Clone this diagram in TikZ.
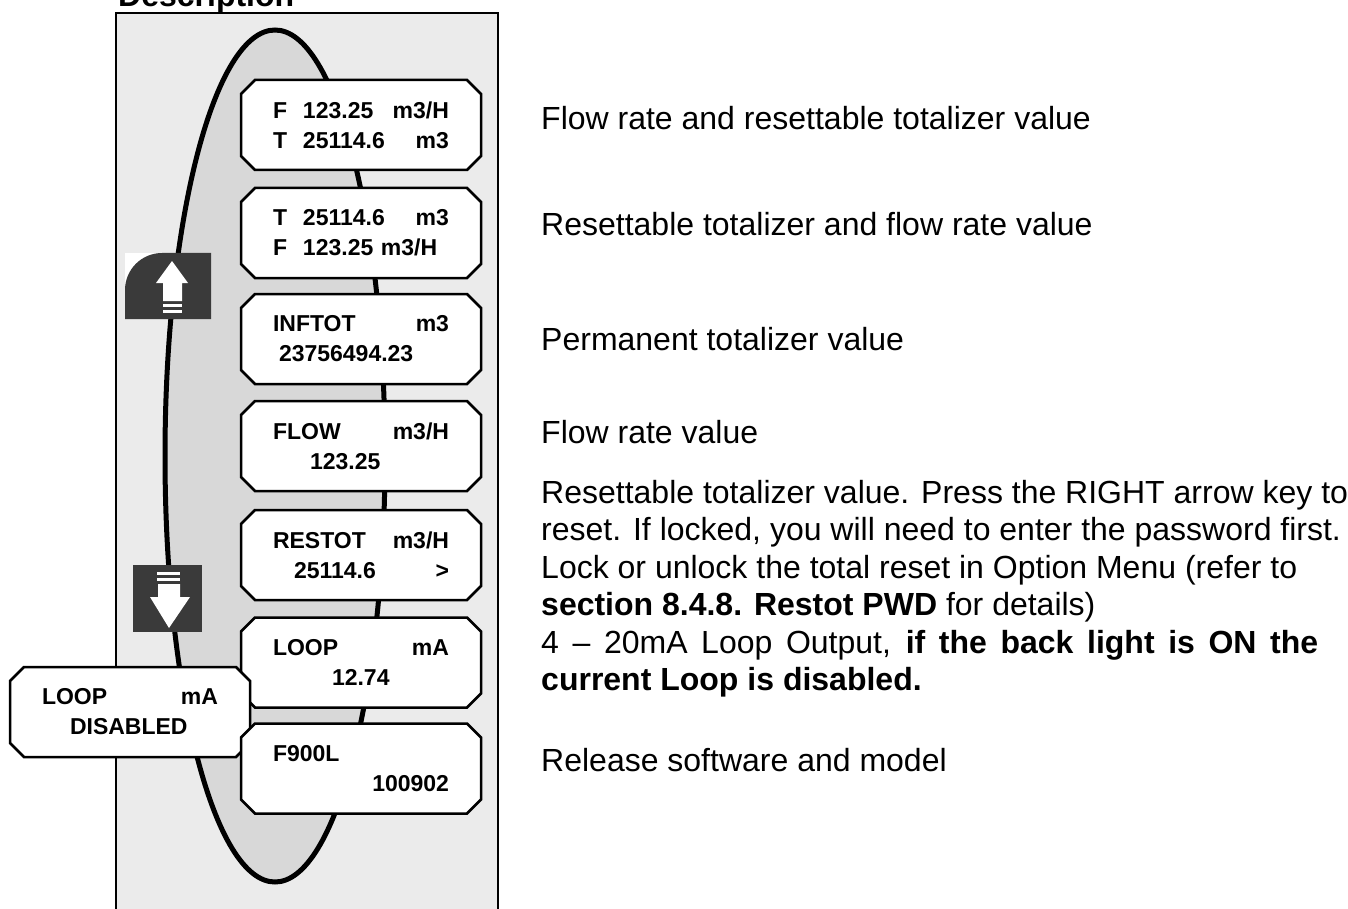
\documentclass[tikz,border=0pt]{standalone}
\usepackage{fontspec}
\setmainfont{Liberation Sans}
\usetikzlibrary{shapes.misc}
\definecolor{panelgray}{HTML}{EBEBEB}
\definecolor{loopgray}{HTML}{D8D8D8}
\definecolor{keygray}{HTML}{3A3A3A}
\newcommand{\lcdfont}{\bfseries\fontsize{23}{30}\selectfont}
\newcommand{\txtfont}{\fontsize{32}{37.5}\selectfont}
\newcommand{\sym}[1]{\makebox[30pt][l]{#1}}

\begin{document}
\begin{tikzpicture}[x=1pt, y=-1pt,
    lcd/.style={draw, line width=2.5pt, fill=white, chamfered rectangle,
        chamfered rectangle xsep=7pt, chamfered rectangle ysep=7pt,
        minimum width=240pt, minimum height=90pt, text width=176pt,
        align=left, inner sep=0pt, font=\lcdfont},
    desc/.style={anchor=base west, inner sep=0pt, font=\txtfont}]
    \useasboundingbox (0,0) rectangle (1348,909);

    \node[anchor=base west, inner sep=0pt, font=\bfseries\fontsize{32}{38}\selectfont] (title) at (118,7) {Description};

    % panel and loop
    \fill[panelgray] (116,13) rectangle (498,915);
    \draw[line width=1.5pt] (116,915) -- (116,13) -- (498,13) -- (498,915);
    \draw[line width=5pt, fill=loopgray] (275,456) ellipse [x radius=110pt, y radius=426pt];

    % up key
    \fill[white] (125,253) rectangle (165,290);
    \fill[keygray] (125,319) -- (125,290) arc[start angle=180, end angle=90, radius=37pt] -- (211,253) -- (211,319) -- cycle;
    \fill[white] (172,261) -- (188,283) -- (182,283) -- (182,301) -- (163,301) -- (163,283) -- (156,283) -- cycle;
    \foreach \y in {303.5, 309.5} {
        \fill[white] (163,\y) rectangle (182,\y+3);
    }

    % down key
    \fill[keygray] (133,565) rectangle (202,632);
    \foreach \y in {571.5, 578} {
        \fill[white] (157,\y) rectangle (180,\y+3);
    }
    \fill[white] (158,584) -- (180,584) -- (180,597) -- (190,597) -- (169,628) -- (150,597) -- (158,597) -- cycle;

    % display screens
    \node[lcd] (flowtot) at (361,125) {\sym{F}123.25\hfill m3/H\\ \sym{T}25114.6\hfill m3};
    \node[lcd] (totflow) at (361,233) {\sym{T}25114.6\hfill m3\\ \sym{F}123.25 m3/H};
    \node[lcd] (inftot) at (361,339) {INFTOT\hfill m3\\ \hspace*{6pt}23756494.23};
    \node[lcd] (flow) at (361,446) {FLOW\hfill m3/H\\ \hspace*{37pt}123.25};
    \node[lcd] (restot) at (361,555) {RESTOT\hfill m3/H\\ \hspace*{21pt}25114.6\hfill >};
    \node[lcd] (loop) at (361,662.5) {LOOP\hfill mA\\ \hspace*{59pt}12.74};
    \node[lcd] (loopoff) at (130,712) {LOOP\hfill mA\\ \hspace*{28pt}DISABLED};
    \node[lcd] (model) at (361,768.5) {F900L\\ \hspace*{\fill}100902};

    % descriptions
    \node[desc] (dflowtot) at (541,130) {Flow rate and resettable totalizer value};
    \node[desc] (dtotflow) at (541,236) {Resettable totalizer and flow rate value};
    \node[desc] (dinftot) at (541,350) {Permanent totalizer value};
    \node[desc] (dflow) at (541,443) {Flow rate value};
    \node[desc, align=left] (drestot) at (541,615.5) {Resettable totalizer value. Press the RIGHT arrow key to\\
        reset. If locked, you will need to enter the password first.\\
        Lock or unlock the total reset in Option Menu (refer to\\
        \textbf{section 8.4.8. Restot PWD} for details)};
    \node[desc, align=left] (dloop) at (541,690.5) {\makebox[777pt][s]{4 – 20mA Loop Output, \textbf{if the back light is ON the}}\\
        \textbf{current Loop is disabled.}};
    \node[desc] (dmodel) at (541,771) {Release software and model};
\end{tikzpicture}
\end{document}
